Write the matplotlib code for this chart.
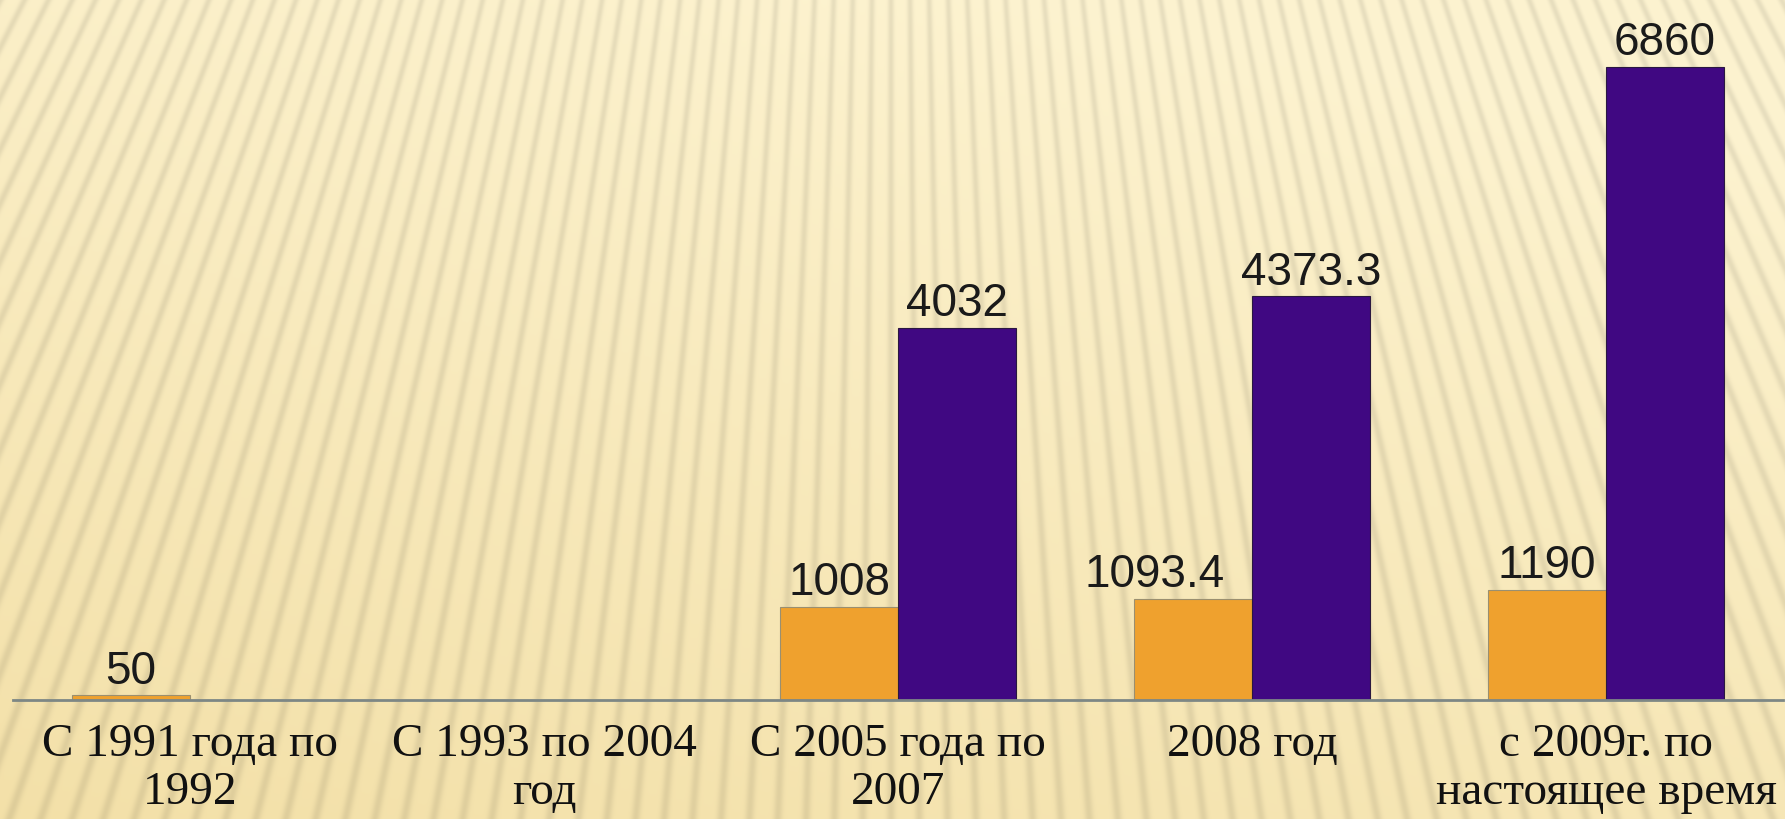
import numpy as np
import matplotlib.pyplot as plt

# данные
categories = ['С 1991 года по\n1992', 'С 1993 по 2004\nгод', 'С 2005 года по\n2007',
              '2008 год', 'с 2009г. по\nнастоящее время']
orange_vals = [50, np.nan, 1008, 1093.4, 1190]
purple_vals = [np.nan, np.nan, 4032, 4373.3, 6860]
orange_labels = ['50', '', '1008', '1093.4', '1190']
purple_labels = ['', '', '4032', '4373.3', '6860']

W, H = 1785, 819
fig = plt.figure(figsize=(W / 100, H / 100), dpi=100)

# фон: кремовый градиент с расходящимися полосами
bg = fig.add_axes([0, 0, 1, 1], zorder=0)
yy, xx = np.mgrid[0:H, 0:W].astype(float)
theta = np.arctan2(xx - 890, yy + 1700)
stripe = (0.5 + 0.5 * np.cos(theta * 560)) ** 4
t = np.clip(0.6 * yy / H + 0.25 * (1 - xx / W) - 0.1, 0, 1)[..., None]
light = np.array([253, 243, 208]) / 255
dark = np.array([240, 218, 155]) / 255
base = light * (1 - t) + dark * t
img = base * (1 - 0.085 * stripe[..., None])
bg.imshow(np.clip(img, 0, 1), aspect='auto', extent=(0, 1, 0, 1), origin='upper')
bg.axis('off')

ax = fig.add_axes([13 / W, 119 / H, 1770 / W, 692 / H], zorder=1)
ax.patch.set_alpha(0)

x = np.arange(len(categories))
w = 0.333
ax.bar(x - w / 2, orange_vals, w, color='#EFA12E', edgecolor='#9a8f70', linewidth=0.8)
ax.bar(x + w / 2, purple_vals, w, color='#400882', edgecolor='#2a1840', linewidth=0.8)

nudge = [0, 0, 0, -38, 0]  # сдвиг подписи в пикселях
for i in range(len(categories)):
    if orange_labels[i]:
        ax.annotate(orange_labels[i], (x[i] - w / 2, orange_vals[i]),
                    xytext=(nudge[i] * 0.72, 8.5), textcoords='offset points',
                    ha='center', va='baseline', fontsize=33,
                    fontfamily='Liberation Sans', color='#1a1a1a')
    if purple_labels[i]:
        ax.annotate(purple_labels[i], (x[i] + w / 2, purple_vals[i]),
                    xytext=(0, 8.5), textcoords='offset points',
                    ha='center', va='baseline', fontsize=33,
                    fontfamily='Liberation Sans', color='#1a1a1a')

ax.set_xlim(-0.5, 4.5)
ax.set_ylim(0, 7500)
ax.set_xticks(x)
ax.set_xticklabels(categories, fontfamily='Liberation Serif', fontsize=34,
                   linespacing=1.16, color='#111111')
ax.tick_params(axis='x', length=0, pad=17)
ax.set_yticks([])
for s in ['top', 'right', 'left']:
    ax.spines[s].set_visible(False)
ax.spines['bottom'].set_color('#7d8785')
ax.spines['bottom'].set_linewidth(2)

fig.savefig('out.png', dpi=100)
